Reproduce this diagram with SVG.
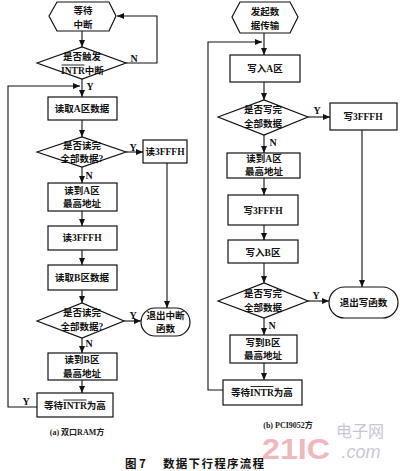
<svg xmlns="http://www.w3.org/2000/svg" width="400" height="471" viewBox="0 0 400 471">
<defs>
<marker id="ah" markerWidth="8" markerHeight="8" refX="7" refY="4" orient="auto" markerUnits="userSpaceOnUse">
<path d="M0,1 L7,4 L0,7 Z" fill="#111"/>
</marker>
<style>
.s{fill:#fff;stroke:#111;stroke-width:1.2}
.c{fill:none;stroke:#111;stroke-width:1.1;marker-end:url(#ah)}
.l{fill:none;stroke:#111;stroke-width:0.9}
.t{font-family:"Liberation Serif","Noto Sans CJK SC",serif;font-size:9.5px;font-weight:bold;fill:#111;text-anchor:middle;dominant-baseline:central}
.ts{font-family:"Liberation Serif","Noto Sans CJK SC",serif;font-size:9.5px;font-weight:bold;fill:#111;text-anchor:start;dominant-baseline:central}
.y{font-family:"Liberation Serif",serif;font-size:10px;font-weight:bold;fill:#111;text-anchor:middle;dominant-baseline:central}
.cap{font-family:"Liberation Serif","Noto Sans CJK SC",serif;font-size:8px;font-weight:bold;fill:#222;text-anchor:middle;dominant-baseline:central}
.fig{font-family:"Noto Sans CJK SC",sans-serif;font-size:11.5px;font-weight:bold;fill:#111;dominant-baseline:central}
</style>
</defs>
<rect width="400" height="471" fill="#fff"/>

<!-- watermark -->
<g id="watermark">
<text x="296" y="448" font-family="Liberation Sans,sans-serif" font-size="30" font-weight="bold" fill="#f0b8bd" text-anchor="middle" dominant-baseline="central" textLength="68" lengthAdjust="spacingAndGlyphs">21IC</text>
<text x="360" y="430" font-family="Noto Sans CJK SC,sans-serif" font-size="16" fill="#c4c8d4" text-anchor="middle" dominant-baseline="central">电子网</text>
<text x="361" y="452" font-family="Liberation Sans,sans-serif" font-size="18" font-style="italic" fill="#c4c8d4" text-anchor="middle" dominant-baseline="central">.com</text>
</g>

<!-- connectors -->
<g id="connectors">
<path class="c" d="M82,31 V47"/>
<path class="c" d="M126,63 H157 V16 H117"/>
<path class="c" d="M82,79 V97"/>
<path class="c" d="M37,407 H8 V86 H80"/>
<path class="c" d="M82,120 V137"/>
<path class="c" d="M126,152 H143"/>
<path class="c" d="M167,163 V308"/>
<path class="c" d="M82,167 V183"/>
<path class="c" d="M82,211 V226"/>
<path class="c" d="M82,250 V265"/>
<path class="c" d="M82,290 V303"/>
<path class="c" d="M124,321 H141"/>
<path class="c" d="M82,338 V353"/>
<path class="c" d="M82,380 V393"/>

<path class="c" d="M264,33 V55"/>
<path class="c" d="M223,390 H208 V42 H262"/>
<path class="c" d="M264,82 V100"/>
<path class="c" d="M308,117 H330"/>
<path class="c" d="M362,130 V287"/>
<path class="c" d="M264,135 V153"/>
<path class="c" d="M264,178 V195"/>
<path class="c" d="M264,225 V240"/>
<path class="c" d="M264,263 V283"/>
<path class="c" d="M308,301 H329"/>
<path class="c" d="M264,318 V335"/>
<path class="c" d="M264,363 V380"/>

<text class="y" x="134" y="58">N</text>
<text class="y" x="90" y="86">Y</text>
<text class="y" x="133" y="147">Y</text>
<text class="y" x="89" y="175">N</text>
<text class="y" x="133" y="315">Y</text>
<text class="y" x="89" y="343">N</text>
<text class="y" x="26" y="401">Y</text>
<text class="y" x="317" y="110">Y</text>
<text class="y" x="273" y="142">N</text>
<text class="y" x="316" y="295">Y</text>
<text class="y" x="272" y="325">N</text>
</g>

<!-- left flow (a) -->
<g id="a_wait">
<polygon class="s" points="49,16 57,2 109,2 116,16 109,31 57,31"/>
<text class="t" x="83" y="11">等待</text>
<text class="t" x="83" y="25">中断</text>
</g>
<g id="a_dec_intr">
<polygon class="s" points="37,63 82,47 126,63 82,79"/>
<text class="t" x="82" y="56.5">是否触发</text>
<text class="ts" x="61" y="71">INTR中断</text>
<line class="l" x1="61.5" y1="65" x2="84.5" y2="65"/>
</g>
<g id="a_readA">
<rect class="s" x="48" y="97" width="69" height="23"/>
<text class="t" x="82" y="108.5">读取A区数据</text>
</g>
<g id="a_dec1">
<polygon class="s" points="37,152 82,137 126,152 82,167"/>
<text class="t" x="82" y="145.5">是否读完</text>
<text class="t" x="82" y="159">全部数据?</text>
</g>
<g id="a_r3fff_1">
<rect class="s" x="143" y="140" width="44" height="23"/>
<text class="t" x="165" y="151.5">读3FFFH</text>
</g>
<g id="a_readAmax">
<rect class="s" x="48" y="183" width="69" height="28"/>
<text class="t" x="82" y="190.5">读到A区</text>
<text class="t" x="82" y="204">最高地址</text>
</g>
<g id="a_r3fff_2">
<rect class="s" x="48" y="226" width="69" height="24"/>
<text class="t" x="82" y="238">读3FFFH</text>
</g>
<g id="a_readB">
<rect class="s" x="48" y="265" width="69" height="25"/>
<text class="t" x="82" y="277.5">读取B区数据</text>
</g>
<g id="a_dec2">
<polygon class="s" points="37,321 82,303 124,321 82,338"/>
<text class="t" x="82" y="313">是否读完</text>
<text class="t" x="82" y="327">全部数据?</text>
</g>
<g id="a_exit">
<rect class="s" x="141" y="308" width="49" height="28" rx="14" ry="14"/>
<text class="t" x="165.5" y="315.5">退出中断</text>
<text class="t" x="165.5" y="329">函数</text>
</g>
<g id="a_readBmax">
<rect class="s" x="48" y="353" width="69" height="27"/>
<text class="t" x="82" y="360">读到B区</text>
<text class="t" x="82" y="373.5">最高地址</text>
</g>
<g id="a_waitHigh">
<rect class="s" x="37" y="393" width="76" height="24"/>
<text class="ts" x="44" y="406">等待INTR为高</text>
<line class="l" x1="63.5" y1="400" x2="86.5" y2="400"/>
</g>

<!-- right flow (b) -->
<g id="b_start">
<polygon class="s" points="232,17 240,2 290,2 298,17 290,33 240,33"/>
<text class="t" x="265" y="11.5">发起数</text>
<text class="t" x="265" y="25.5">据传输</text>
</g>
<g id="b_writeA">
<rect class="s" x="230" y="55" width="70" height="27"/>
<text class="t" x="265" y="68.5">写入A区</text>
</g>
<g id="b_dec1">
<polygon class="s" points="218,117 264,100 308,117 264,135"/>
<text class="t" x="263" y="110">是否写完</text>
<text class="t" x="263" y="124">全部数据</text>
</g>
<g id="b_w3fff_1">
<rect class="s" x="330" y="103" width="67" height="27"/>
<text class="t" x="363" y="116.5">写3FFFH</text>
</g>
<g id="b_readAmax">
<rect class="s" x="227" y="153" width="73" height="25"/>
<text class="t" x="264" y="159">读到A区</text>
<text class="t" x="264" y="172">最高地址</text>
</g>
<g id="b_w3fff_2">
<rect class="s" x="228" y="195" width="70" height="30"/>
<text class="t" x="263" y="210.5">写3FFFH</text>
</g>
<g id="b_writeB">
<rect class="s" x="228" y="240" width="70" height="23"/>
<text class="t" x="263" y="252.5">写入B区</text>
</g>
<g id="b_dec2">
<polygon class="s" points="218,301 264,283 308,301 264,318"/>
<text class="t" x="263" y="294">是否写完</text>
<text class="t" x="263" y="308">全部数据</text>
</g>
<g id="b_exit">
<rect class="s" x="329" y="287" width="69" height="31" rx="15.5" ry="15.5"/>
<text class="t" x="363.5" y="302.5">退出写函数</text>
</g>
<g id="b_writeBmax">
<rect class="s" x="230" y="335" width="67" height="28"/>
<text class="t" x="263" y="342.5">写到B区</text>
<text class="t" x="263" y="356">最高地址</text>
</g>
<g id="b_waitHigh">
<rect class="s" x="223" y="380" width="79" height="25"/>
<text class="ts" x="231" y="392.5">等待INTR为高</text>
<line class="l" x1="250.5" y1="386.5" x2="273.5" y2="386.5"/>
</g>

<!-- captions -->
<text class="cap" x="77" y="432">(a) 双口RAM方</text>
<text class="cap" x="288" y="425.5">(b) PCI9052方</text>
<text class="fig" x="125" y="463">图 7</text>
<text class="fig" x="163" y="463" letter-spacing="1.3">数据下行程序流程</text>
</svg>
